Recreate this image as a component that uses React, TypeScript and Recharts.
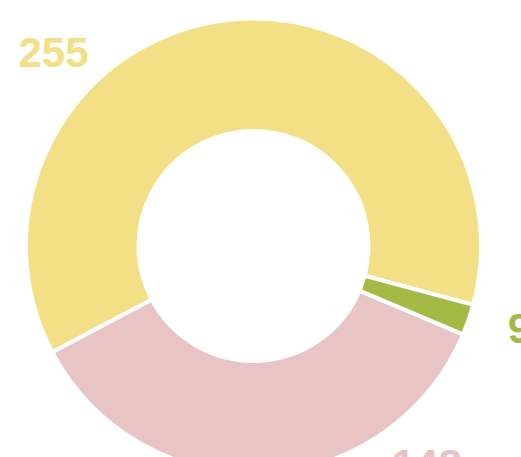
import { PieChart, Pie, Cell } from 'recharts'

const categories = ['A', 'B', 'C']
const values = [255, 148, 9]
const colors = ['#F3DF85', '#E8C4C5', '#A4BA45']
// label placement tweaks, degrees added to each slice's mid angle
const labelShift = [39.5, 36, 1.6]

const data = categories.map((name, i) => ({ name, value: values[i] }))

const RAD = Math.PI / 180

function renderLabel(props: any) {
  const { cx, cy, midAngle, outerRadius, index, value } = props
  const angle = midAngle + labelShift[index]
  const r = outerRadius + 51
  const x = cx + r * Math.cos(-angle * RAD)
  const y = cy + r * Math.sin(-angle * RAD)
  return (
    <text
      x={x}
      y={y}
      fill={colors[index]}
      textAnchor="middle"
      dominantBaseline="central"
      fontFamily="'Liberation Sans', Arial, sans-serif"
      fontWeight="bold"
      fontSize={42}
    >
      {value}
    </text>
  )
}

export default function App() {
  return (
    <div style={{ position: 'absolute', left: 0, top: 0, width: 521, height: 457, background: '#fff', overflow: 'hidden' }}>
      <PieChart width={521} height={457} margin={{ top: 0, right: 0, bottom: 0, left: 0 }}>
        <Pie
          data={data}
          dataKey="value"
          nameKey="name"
          cx={253.5}
          cy={246}
          innerRadius={115}
          outerRadius={227.5}
          startAngle={-15}
          endAngle={345}
          stroke="#fff"
          strokeWidth={4}
          label={renderLabel}
          labelLine={false}
          isAnimationActive={false}
        >
          {data.map((d, i) => (
            <Cell key={d.name} fill={colors[i]} />
          ))}
        </Pie>
      </PieChart>
    </div>
  )
}
